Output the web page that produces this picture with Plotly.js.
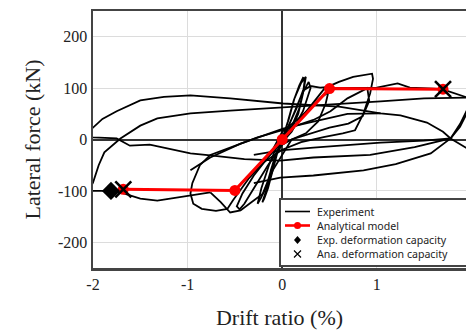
<!DOCTYPE html>
<html>
<head>
<meta charset="utf-8">
<script src="https://cdn.plot.ly/plotly-3.0.1.min.js"></script>
<style>html,body{margin:0;padding:0;background:#fff;}#chart{width:466px;height:333px;}</style>
</head>
<body>
<div id="chart"></div>
<script>
// ---- Experiment (hysteresis), traced in segments: drift ratio (%) / lateral force (kN)
var smallLoopX = [0, 0.06, 0.12, 0.18, 0.22, 0.24, 0.22, 0.17, 0.10, 0.02, -0.05, -0.10, -0.15, -0.19, -0.21, -0.17, -0.12, -0.06, 0, 0.07, 0.13, 0.20, 0.25, 0.23, 0.18, 0.10, 0, -0.08, -0.15, -0.22, -0.26, -0.22, -0.14, -0.05];
var smallLoopY = [0, 35, 75, 105, 120, 118, 90, 50, 20, 0, -25, -60, -95, -115, -122, -100, -60, -25, 0, 40, 80, 110, 122, 100, 60, 25, 2, -35, -80, -112, -125, -95, -50, -10];

var halfLoopX = [-0.05, 0.05, 0.15, 0.22, 0.30, 0.40, 0.50, 0.46, 0.38, 0.25, 0.10, 0, -0.15, -0.30, -0.40, -0.45, -0.48, -0.42, -0.30, -0.15, 0, 0.10, 0.20, 0.28, 0.30, 0.22, 0.10, 0];
var halfLoopY = [-10, 20, 60, 95, 104, 101, 102, 70, 35, 12, 0, -10, -50, -95, -125, -136, -130, -105, -70, -35, -5, 40, 85, 112, 100, 55, 15, -5];

var oneLoopX = [0, 0.15, 0.30, 0.45, 0.60, 0.75, 0.95, 0.96, 0.93, 0.86, 0.77, 0.64, 0.45, 0.20, 0, -0.20, -0.35, -0.45, -0.52, -0.58, -0.70, -0.85, -0.94, -0.97, -0.95, -0.87, -0.76, -0.55, -0.26, 0, 0.33, 0.51, 0.69, 0.90, 0.92, 0.85, 0.70, 0.50, 0.30, 0.10, -0.10, -0.20, -0.34, -0.44, -0.55, -0.65, -0.76];
var oneLoopY = [-5, 30, 65, 100, 112, 122, 128, 118, 90, 51, 18, 12, 5, -5, -20, -45, -75, -100, -118, -135, -139, -135, -125, -105, -85, -50, -30, -16, 4, 18, 38, 55, 80, 100, 75, 45, 31, 23, 12, 0, -60, -105, -124, -138, -142, -122, -103];

var twoLoopX = [-0.76, -0.97, -1.32, -1.50, -1.71, -1.81, -2.05, null, -2.05, -2.00, -1.94, -1.88, -1.71, -1.50, -1.32, -0.97, -0.55, 0, 0.50, 1.04, 1.50, 1.95, 2.05];
var twoLoopY = [-103, -109, -119, -115, -103, -100, -100, null, -100, -84, -50, -25, 2, 27, 41, 51, 56, 62, 67, 74, 80, 82, 82];

var plateauX = [-0.10, 0, 0.20, 0.40, 0.55, 0.80, 1.00, 1.22, 1.35, 1.60, 1.69, 1.95, 2.05];
var plateauY = [-20, 15, 45, 80, 100, 100, 101, 109, 101, 99, 98, 82, 78];

var arcAX = [2.05, 1.95, 1.78, 1.70, 1.53, 1.25, 1.04, 0.60, 0.01, -0.55, -0.97, -1.25, -1.50, -1.75, -1.90, -2.00, -2.05];
var arcAY = [-28, -17, 2, 15, 33, 47, 51, 64, 70, 80, 86, 83, 76, 55, 40, 23, 15];

var arcCX = [-2.05, -2.00, -1.75, -1.61, -1.40, -1.18, -0.97, -0.76, -0.40, -0.02, 0.33, 0.93, 1.40, 1.78, 1.88, 1.95, 2.05];
var arcCY = [5, 4, 2, -12, -10, -18, -27, -31, -38, -41, -35, -30, -15, 2, 25, 50, 75];

var lowRX = [-0.30, -0.02, 0.33, 0.86, 1.20, 1.57, 1.78, 1.88, 1.95, 2.05];
var lowRY = [-85, -74, -70, -60, -48, -27, 2, 30, 56, 80];

var midRX = [-0.30, -0.02, 0.33, 1.04, 1.50, 1.78];
var midRY = [-30, -21, -16, -6, -2, 2];

var innerX = [-0.97, -0.76, -0.44, -0.10, 0.01, 0.33, 0.69, 1.04];
var innerY = [-60, -35, -8, 14, 21, 35, 50, 51];

// ---- Analytical model
var anaX = [-1.68, -0.50, 0, 0.50, 1.70];
var anaY = [-97, -99, 0, 99, 98];
// ---- Deformation capacities
var expCapX = [-1.81];
var expCapY = [-100];
var anaCapX = [-1.68, 1.70];
var anaCapY = [-97, 98];

// ---- Tick labels and legend texts
var xTicks = [-2, -1, 0, 1, 2];
var xTickText = ['-2', '-1', '0', '1', '2'];
var yTicks = [-200, -100, 0, 100, 200];
var yTickText = ['-200', '-100', '0', '100', '200'];
var legendNames = ['Experiment', 'Analytical model', 'Exp. deformation capacity', 'Ana. deformation capacity'];

function join(parts) {
  var out = [];
  parts.forEach(function (p, i) { if (i) out.push(null); out = out.concat(p); });
  return out;
}
var expX = join([smallLoopX, halfLoopX, oneLoopX, twoLoopX, plateauX, arcAX, arcCX, lowRX, midRX, innerX]);
var expY = join([smallLoopY, halfLoopY, oneLoopY, twoLoopY, plateauY, arcAY, arcCY, lowRY, midRY, innerY]);

var traces = [
  {x: expX, y: expY, mode: 'lines', connectgaps: false, line: {color: '#000', width: 1.8}, name: legendNames[0]},
  {x: anaX, y: anaY, mode: 'lines+markers', line: {color: '#ff0000', width: 3}, marker: {color: '#ff0000', size: 11}, name: legendNames[1]},
  {x: expCapX, y: expCapY, mode: 'markers', marker: {symbol: 'diamond', color: '#000', size: 14}, name: legendNames[2]},
  {x: anaCapX, y: anaCapY, mode: 'markers', marker: {symbol: 'x-thin-open', color: '#000', size: 16, line: {color: '#000', width: 2.6}}, name: legendNames[3]}
];

// ---- Hand-built compact legend (pixel positions converted to paper fractions)
var L = 93, W = 373, B = 268, H = 257;
function px(p) { return (p - L) / W; }
function py(p) { return (B - p) / H; }
var rowsY = [211.5, 225.5, 240, 254];
var symX0 = px(285), symX1 = px(310), symXc = px(297.5), textX = px(315);

var shapes = [
  {type: 'rect', xref: 'paper', yref: 'paper', x0: px(280), x1: 1.03, y0: py(266), y1: py(199),
   fillcolor: '#fff', line: {color: '#444', width: 2}, layer: 'above'},
  {type: 'line', xref: 'paper', yref: 'paper', x0: symX0, x1: symX1, y0: py(rowsY[0]), y1: py(rowsY[0]), line: {color: '#000', width: 1.6}},
  {type: 'line', xref: 'paper', yref: 'paper', x0: symX0, x1: symX1, y0: py(rowsY[1]), y1: py(rowsY[1]), line: {color: '#ff0000', width: 2.6}},
  {type: 'circle', xref: 'paper', yref: 'paper', xsizemode: 'pixel', ysizemode: 'pixel', xanchor: symXc, yanchor: py(rowsY[1]),
   x0: -3.5, x1: 3.5, y0: -3.5, y1: 3.5, fillcolor: '#ff0000', line: {color: '#ff0000', width: 0}},
  {type: 'path', xref: 'paper', yref: 'paper', xsizemode: 'pixel', ysizemode: 'pixel', xanchor: symXc, yanchor: py(rowsY[2]),
   path: 'M 0,4 L 3.5,0 L 0,-4 L -3.5,0 Z', fillcolor: '#000', line: {color: '#000', width: 0}},
  {type: 'path', xref: 'paper', yref: 'paper', xsizemode: 'pixel', ysizemode: 'pixel', xanchor: symXc, yanchor: py(rowsY[3]),
   path: 'M -3.5,-3.5 L 3.5,3.5 M -3.5,3.5 L 3.5,-3.5', line: {color: '#000', width: 1.2}}
];
var annotations = legendNames.map(function (t, i) {
  return {xref: 'paper', yref: 'paper', x: textX, y: py(rowsY[i]), xanchor: 'left', yanchor: 'middle',
          text: t, showarrow: false, font: {family: 'Noto Sans, DejaVu Sans, sans-serif', size: 10.6, color: '#222'}};
});

var serif = 'Liberation Serif, Times New Roman, serif';
var layout = {
  width: 466, height: 333,
  margin: {l: 93, r: 0, t: 11, b: 65},
  paper_bgcolor: '#fff', plot_bgcolor: '#fff',
  font: {family: serif, color: '#222'},
  showlegend: false,
  xaxis: {
    range: [-2, 1.943], tickvals: xTicks, ticktext: xTickText,
    showgrid: true, gridcolor: '#dcdcdc', gridwidth: 1,
    zeroline: true, zerolinecolor: '#333', zerolinewidth: 2,
    showline: true, mirror: true, linecolor: '#444', linewidth: 2.5,
    ticks: '', tickfont: {family: serif, size: 16, color: '#222'},
    title: {text: 'Drift ratio (%)', font: {family: serif, size: 22, color: '#222'}, standoff: 18}
  },
  yaxis: {
    range: [-250, 250], tickvals: yTicks, ticktext: yTickText,
    showgrid: true, gridcolor: '#dcdcdc', gridwidth: 1,
    zeroline: true, zerolinecolor: '#333', zerolinewidth: 2,
    showline: true, mirror: false, linecolor: '#444', linewidth: 2.5,
    ticks: '', tickfont: {family: serif, size: 16, color: '#222'},
    title: {text: 'Lateral force (kN)', font: {family: serif, size: 22, color: '#222'}, standoff: 12}
  },
  shapes: shapes,
  annotations: annotations
};
Plotly.newPlot('chart', traces, layout, {staticPlot: true, displayModeBar: false});
</script>
</body>
</html>
